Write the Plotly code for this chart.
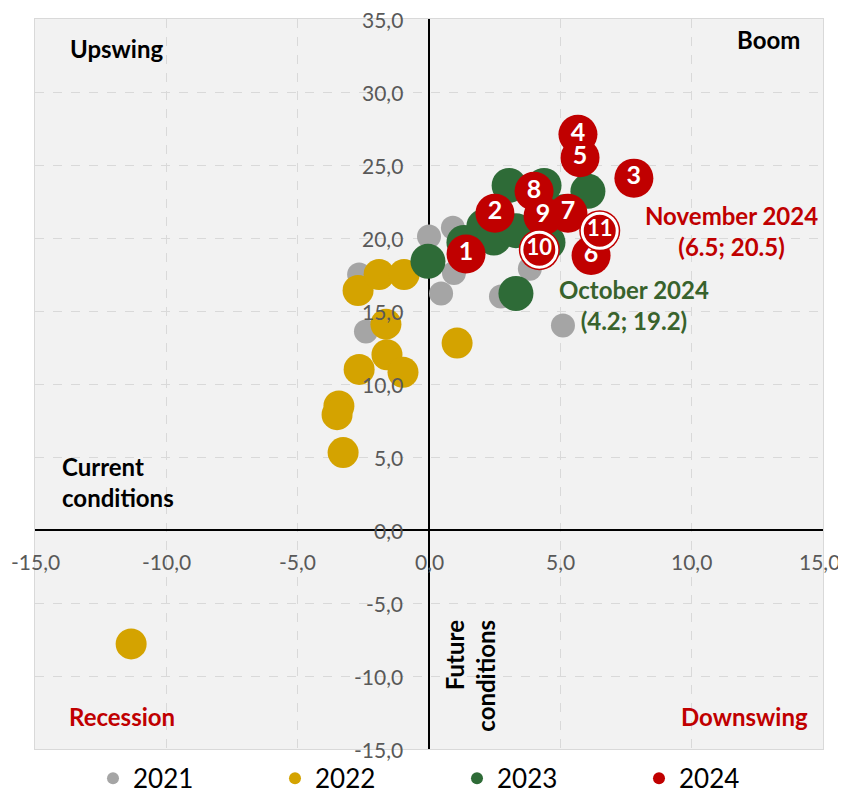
import plotly.graph_objects as go

# ---- data ----
x2021 = [-2.66, -2.40, 0.00, 0.91, 0.95, 0.46, 2.74, 3.84, 5.10]
y2021 = [17.5, 13.6, 20.1, 20.7, 17.6, 16.2, 16.0, 17.9, 14.0]

x2022 = [-2.70, -1.90, -0.95, -1.64, -1.60, -0.99, -2.66, -3.43, -3.50, -3.27, 1.07, -11.34]
y2022 = [16.4, 17.5, 17.5, 14.1, 12.0, 10.8, 11.0, 8.5, 7.9, 5.3, 12.8, -7.8]

x2023 = [-0.04, 1.33, 2.09, 2.47, 3.05, 3.31, 4.38, 6.05, 3.31, 4.53, 5.14]
y2023 = [18.4, 19.7, 20.8, 20.0, 23.6, 16.2, 23.6, 23.2, 20.5, 19.7, 21.8]

x2024 = [1.41, 2.51, 7.80, 5.67, 5.75, 6.17, 5.29, 4.00, 4.34]
y2024 = [18.9, 21.7, 24.1, 27.1, 25.5, 18.8, 21.7, 23.2, 21.5]
labels2024 = ["1", "2", "3", "4", "5", "6", "7", "8", "9"]

x2024_latest = [4.2, 6.5]
y2024_latest = [19.2, 20.5]
labels2024_latest = ["10", "11"]

xticks = [-15, -10, -5, 0, 5, 10, 15]
xtick_labels = ["-15,0", "-10,0", "-5,0", "0,0", "5,0", "10,0", "15,0"]
yticks = [35, 30, 25, 20, 15, 10, 5, 0, -5, -10, -15]
ytick_labels = ["35,0", "30,0", "25,0", "20,0", "15,0", "10,0", "5,0", "0,0", "-5,0", "-10,0", "-15,0"]

GRAY = "#a5a5a5"
YELLOW = "#d4a300"
GREEN = "#2e6b37"
RED = "#c00000"
FONT = "Lato"

fig = go.Figure()
fig.add_trace(go.Scatter(x=x2021, y=y2021, mode="markers", name="2021",
                         marker=dict(color=GRAY, size=24, line=dict(width=0))))
fig.add_trace(go.Scatter(x=x2022, y=y2022, mode="markers", name="2022",
                         marker=dict(color=YELLOW, size=31, line=dict(width=0))))
fig.add_trace(go.Scatter(x=x2023, y=y2023, mode="markers", name="2023",
                         marker=dict(color=GREEN, size=35, line=dict(width=0))))
fig.add_trace(go.Scatter(x=x2024, y=y2024, mode="markers+text", name="2024",
                         text=labels2024, textposition="middle center",
                         textfont=dict(family=FONT, size=25, color="white", weight="bold"),
                         marker=dict(color=RED, size=39, line=dict(width=0))))
# outer thin red rim for latest months
fig.add_trace(go.Scatter(x=x2024_latest, y=y2024_latest, mode="markers", showlegend=False,
                         marker=dict(color=RED, size=41, line=dict(width=0))))
fig.add_trace(go.Scatter(x=x2024_latest, y=y2024_latest, mode="markers+text", showlegend=False,
                         text=labels2024_latest, textposition="middle center",
                         textfont=dict(family=FONT, size=22, color="white", weight="bold"),
                         marker=dict(color=RED, size=35, line=dict(width=3, color="white"))))

ann = []
for v, t in zip(xticks, xtick_labels):
    ann.append(dict(x=v, y=0, text=t, showarrow=False, xanchor="center", yanchor="middle",
                    yshift=-31, xshift=(-4 if v == xticks[-1] else 0),
                    font=dict(family=FONT, size=21, color="#595959")))
for v, t in zip(yticks, ytick_labels):
    ann.append(dict(x=0, y=v, text=t, showarrow=False, xanchor="right", yanchor="middle",
                    xshift=-24, font=dict(family=FONT, size=21, color="#595959")))

bold = dict(family=FONT, size=24, color="black", weight="bold")
ann += [
    dict(x=-13.75, y=33.0, text="Upswing", showarrow=False, xanchor="left", yanchor="middle", font=bold),
    dict(x=14.2, y=33.6, text="Boom", showarrow=False, xanchor="right", yanchor="middle", font=bold),
    dict(x=-14.05, y=3.3, text="Current<br>conditions", showarrow=False, xanchor="left", yanchor="middle",
         align="left", font=bold),
    dict(x=-11.7, y=-12.8, text="Recession", showarrow=False, xanchor="center", yanchor="middle",
         font=dict(family=FONT, size=24, color=RED, weight="bold")),
    dict(x=12.0, y=-12.8, text="Downswing", showarrow=False, xanchor="center", yanchor="middle",
         font=dict(family=FONT, size=24, color=RED, weight="bold")),
    dict(x=1.55, y=-10.0, text="Future<br>conditions", showarrow=False, xanchor="center", yanchor="middle",
         textangle=-90, align="right", font=bold),
    dict(x=11.5, y=20.5, text="November 2024<br>(6.5; 20.5)", showarrow=False, xanchor="center",
         yanchor="middle", align="center", font=dict(family=FONT, size=24, color=RED, weight="bold")),
    dict(x=7.8, y=15.4, text="October 2024<br>(4.2; 19.2)", showarrow=False, xanchor="center",
         yanchor="middle", align="center", font=dict(family=FONT, size=24, color="#38622c", weight="bold")),
]

fig.update_layout(
    width=846, height=794,
    margin=dict(l=27, r=31, t=11, b=53, autoexpand=False),
    paper_bgcolor="white", plot_bgcolor="#f2f2f2",
    font=dict(family=FONT),
    showlegend=True,
    legend=dict(orientation="h", x=0.0736, xanchor="left", y=-0.008, yanchor="top",
                font=dict(family=FONT, size=26, color="black"),
                entrywidth=137, entrywidthmode="pixels", itemsizing="constant",
                bgcolor="rgba(0,0,0,0)"),
    annotations=ann,
)
fig.update_xaxes(range=[-15, 15], tickvals=xticks, showticklabels=False, ticks="",
                 showgrid=True, gridcolor="#d9d9d9", griddash="dash", gridwidth=1,
                 zeroline=True, zerolinecolor="black", zerolinewidth=2,
                 showline=True, mirror=True, linecolor="#d9d9d9", linewidth=1)
fig.update_yaxes(range=[-15, 35], tickvals=yticks, showticklabels=False, ticks="",
                 showgrid=True, gridcolor="#d9d9d9", griddash="dash", gridwidth=1,
                 zeroline=True, zerolinecolor="black", zerolinewidth=2,
                 showline=True, mirror=True, linecolor="#d9d9d9", linewidth=1)

fig.write_html("out.html")
